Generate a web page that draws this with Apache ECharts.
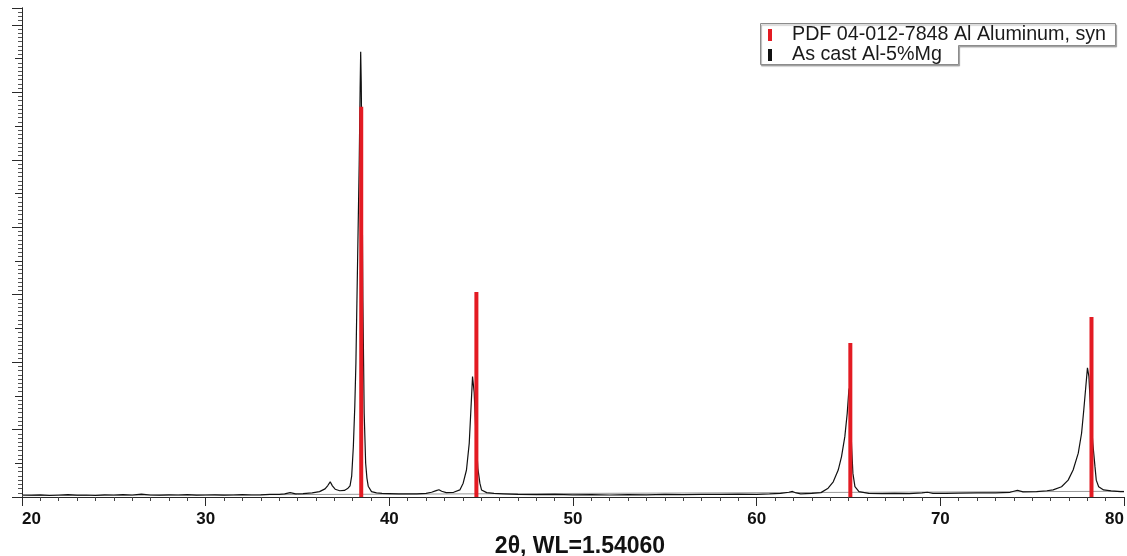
<!DOCTYPE html>
<html>
<head>
<meta charset="utf-8">
<script src="https://cdn.jsdelivr.net/npm/echarts@6/dist/echarts.min.js"></script>
<style>
  html, body { margin: 0; padding: 0; background: #fff; }
  #chart { width: 1127px; height: 556px; }
</style>
</head>
<body>
<div id="chart"></div>
<script>
// Series names shown in the legend
const refName = 'PDF 04-012-7848 Al Aluminum, syn';
const sampleName = 'As cast Al-5%Mg';
const xTitle = '2\u03B8, WL=1.54060';

// Measured pattern of the as-cast Al-5%Mg sample: 2-theta (deg) and intensity (counts)
const twoTheta = [
  20.0, 20.5, 21.0, 21.5, 22.0, 22.5, 23.0, 23.5, 24.0, 24.5,
  25.0, 25.5, 26.0, 26.5, 27.0, 27.5, 28.0, 28.5, 29.0, 29.5,
  30.0, 30.5, 31.0, 31.5, 32.0, 32.5, 33.0, 33.5, 34.0, 34.3,
  34.6, 34.9, 35.3, 35.8, 36.2, 36.5, 36.65, 36.78, 36.9, 37.05,
  37.3, 37.55, 37.75, 37.86, 37.95, 38.04, 38.12, 38.18, 38.27, 38.36,
  38.41, 38.44, 38.47, 38.51, 38.56, 38.63, 38.71, 38.78, 38.85, 39.03,
  39.3, 39.6, 40.0, 40.5, 41.0, 41.5, 42.0, 42.3, 42.55, 42.7,
  42.85, 43.1, 43.5, 43.84, 44.02, 44.2, 44.35, 44.44, 44.53, 44.56,
  44.62, 44.72, 44.82, 44.93, 45.02, 45.3, 45.7, 46.2, 47.0, 48.0,
  49.0, 50.0, 51.0, 52.0, 53.0, 54.0, 55.0, 56.0, 57.0, 58.0,
  59.0, 60.0, 60.7, 61.3, 61.75, 61.95, 62.15, 62.4, 63.0, 63.5,
  63.89, 64.17, 64.44, 64.62, 64.8, 64.93, 65.02, 65.05, 65.1, 65.17,
  65.24, 65.35, 65.57, 66.1, 66.8, 67.5, 68.3, 69.0, 69.3, 69.6,
  70.3, 71.0, 72.0, 73.0, 73.8, 74.2, 74.5, 75.24, 75.8, 76.14,
  76.6, 76.96, 77.23, 77.51, 77.69, 77.81, 77.92, 78.01, 78.09, 78.18,
  78.3, 78.42, 78.49, 78.62, 78.89, 79.3, 79.8, 80.0
];
const intensity = [
  60, 55, 65, 50, 60, 70, 55, 60, 50, 65,
  60, 70, 60, 85, 60, 55, 65, 60, 70, 55,
  60, 65, 55, 60, 70, 60, 65, 75, 80, 95,
  130, 95, 100, 120, 160, 240, 340, 450, 330, 230,
  185, 195, 260, 330, 620, 1490, 2700, 3970, 6940, 9900,
  12100, 13200, 12300, 9900, 5800, 2490, 1010, 560, 320, 160,
  120, 105, 100, 90, 95, 90, 110, 140, 190, 215,
  170, 130, 140, 210, 410, 800, 1590, 2580, 3570, 3620,
  3100, 1800, 850, 410, 210, 130, 105, 95, 80, 70,
  75, 65, 70, 60, 70, 65, 75, 70, 80, 75,
  85, 80, 95, 110, 140, 165, 120, 95, 110, 130,
  260, 450, 800, 1200, 1790, 2480, 3170, 3230, 2500, 1490,
  700, 305, 160, 110, 100, 110, 100, 120, 140, 110,
  105, 115, 120, 125, 140, 200, 150, 160, 185, 210,
  305, 500, 800, 1300, 1890, 2580, 3270, 3830, 3570, 2580,
  1600, 900, 500, 305, 210, 180, 160, 160
];

// Reference card line positions (deg) and intensities (counts)
const refTheta = [38.47, 44.74, 65.10, 78.23];
const refIntensity = [11570, 6080, 4570, 5340];

// Fitted background line end points
const bgTheta = [20, 80];
const bgIntensity = [40, 170];

// X axis range and tick step
const xMin = 20, xMax = 80, xStep = 10;
// Y axis range (labels hidden)
const yMin = 0, yMax = 14500, yMajor = 2000, yMid = 1000;

const zip = (a, b) => a.map((v, i) => [v, b[i]]);
const font = '"Liberation Sans", Arial, Helvetica, sans-serif';
const axisColor = '#2a2a2a';

const chart = echarts.init(document.getElementById('chart'), null, { renderer: 'canvas' });

chart.setOption({
  animation: false,
  backgroundColor: '#ffffff',
  grid: { left: 22, right: 3, top: 8, bottom: 59, containLabel: false, outerBoundsMode: 'none' },
  xAxis: {
    type: 'value',
    min: xMin,
    max: xMax,
    interval: xStep,
    axisLine: { show: true, onZero: false, lineStyle: { color: axisColor, width: 1 } },
    axisTick: { show: true, inside: false, length: 9, lineStyle: { color: axisColor } },
    minorTick: { show: true, splitNumber: 10, length: 4, lineStyle: { color: '#444' } },
    splitLine: { show: false },
    minorSplitLine: { show: false },
    axisLabel: {
      fontFamily: font, fontWeight: 'bold', fontSize: 17, color: '#111',
      margin: 14, alignMinLabel: 'left', alignMaxLabel: 'right'
    },
    name: xTitle,
    nameLocation: 'middle',
    nameGap: 38,
    nameTextStyle: { fontFamily: font, fontWeight: 'bold', fontSize: 23, color: '#111', padding: [0, 0, 0, 14] }
  },
  yAxis: [
    {
      type: 'value',
      min: yMin, max: yMax, interval: yMajor,
      position: 'left',
      axisLine: { show: true, onZero: false, lineStyle: { color: axisColor, width: 1 } },
      axisTick: { show: true, inside: false, length: 10, lineStyle: { color: axisColor } },
      minorTick: { show: true, splitNumber: 16, length: 4, lineStyle: { color: '#555' } },
      axisLabel: { show: false },
      splitLine: { show: false },
      minorSplitLine: { show: false }
    },
    {
      type: 'value',
      min: yMin, max: yMax, interval: yMid,
      position: 'left', offset: 0,
      axisLine: { show: true, onZero: false, lineStyle: { color: axisColor, width: 1 } },
      axisTick: { show: true, inside: false, length: 7, lineStyle: { color: axisColor } },
      axisLabel: { show: false },
      splitLine: { show: false }
    }
  ],
  legend: {
    orient: 'vertical',
    left: 768,
    top: 25,
    padding: 0,
    itemGap: 0,
    itemWidth: 4,
    itemHeight: 12,
    selectedMode: false,
    z: 20,
    data: [
      { name: refName, icon: 'rect' },
      { name: sampleName, icon: 'rect' }
    ],
    textStyle: { fontFamily: font, fontSize: 19.7, color: '#1a1a1a', lineHeight: 19, padding: [0, 0, 0, 15] }
  },
  graphic: [
    {
      type: 'polygon',
      z: 15,
      silent: true,
      shape: {
        points: [[760.5, 23.5], [1115.5, 23.5], [1115.5, 45.5], [958.5, 45.5], [958.5, 64.5], [760.5, 64.5]]
      },
      style: {
        fill: '#ffffff', stroke: '#8c8c8c', lineWidth: 1,
        shadowColor: 'rgba(0,0,0,0.3)', shadowOffsetX: 1, shadowOffsetY: 1.5, shadowBlur: 1
      }
    }
  ],
  series: [
    {
      name: 'background',
      type: 'line',
      yAxisIndex: 0,
      data: zip(bgTheta, bgIntensity),
      showSymbol: false,
      symbol: 'none',
      silent: true,
      lineStyle: { color: '#9a9a9a', width: 1 },
      z: 1
    },
    {
      name: sampleName,
      type: 'line',
      yAxisIndex: 0,
      data: zip(twoTheta, intensity),
      showSymbol: false,
      symbol: 'none',
      smooth: false,
      lineStyle: { color: '#111111', width: 1.2 },
      itemStyle: { color: '#111111' },
      z: 3
    },
    {
      name: refName,
      type: 'bar',
      yAxisIndex: 0,
      data: zip(refTheta, refIntensity),
      barWidth: 4,
      itemStyle: { color: '#e31b23' },
      z: 4
    }
  ]
});
</script>
</body>
</html>
